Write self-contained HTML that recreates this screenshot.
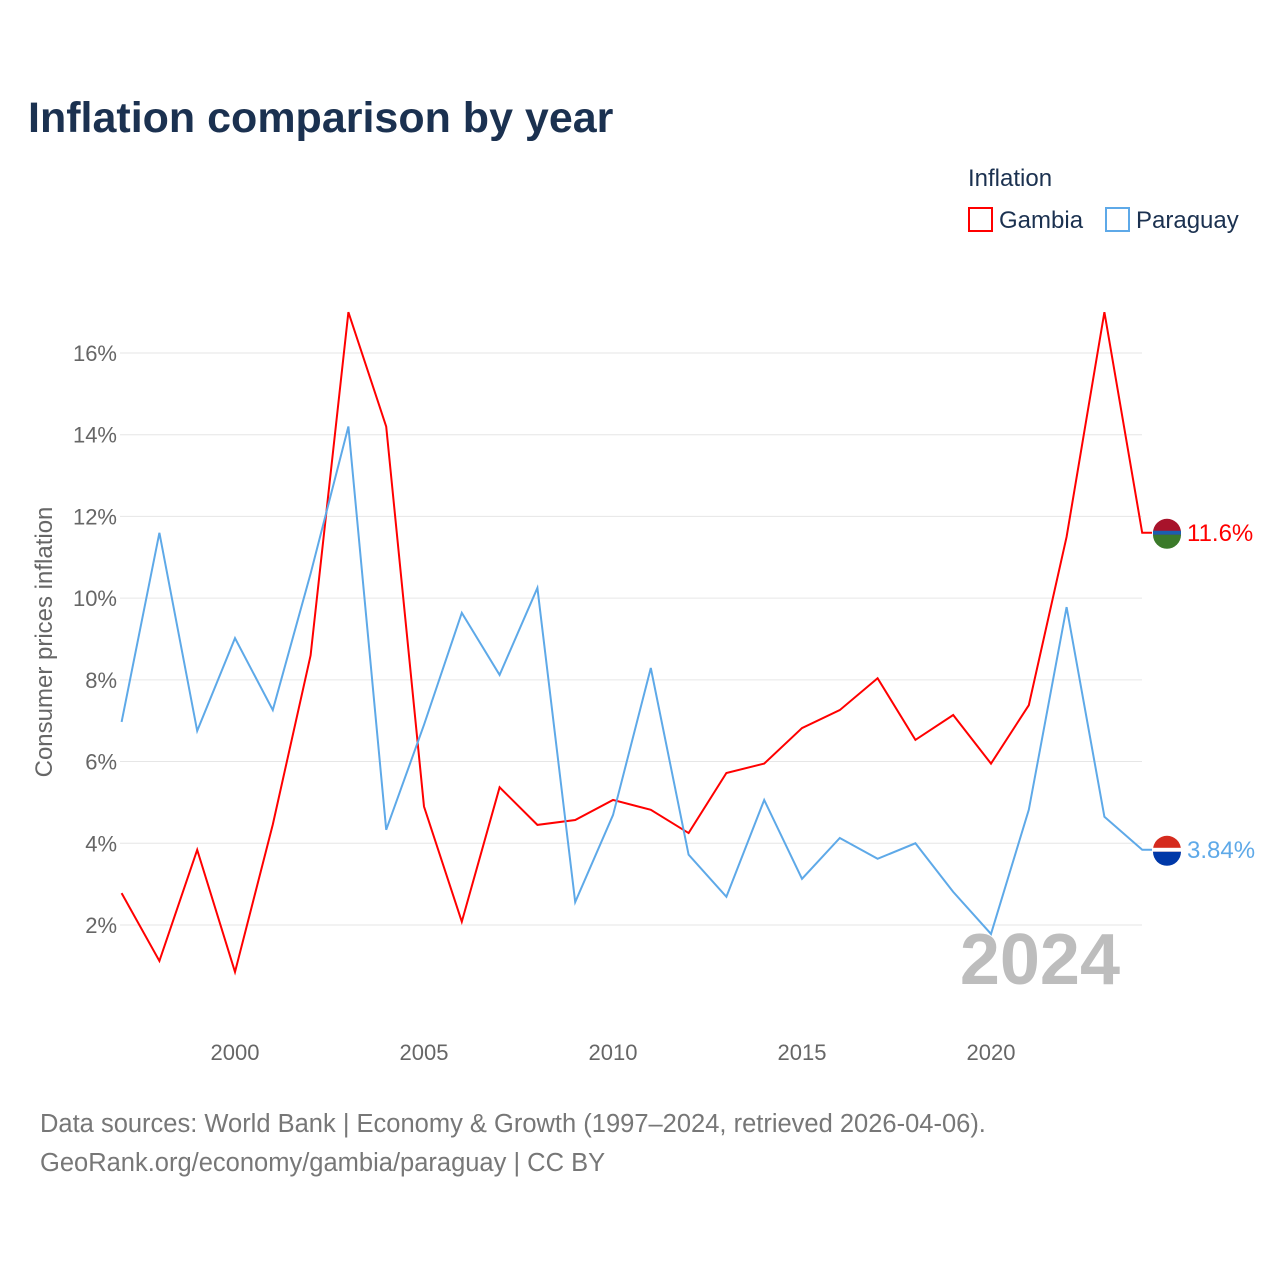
<!DOCTYPE html>
<html><head><meta charset="utf-8"><style>
body{margin:0;background:#fff;font-family:"Liberation Sans",sans-serif;}
svg text{font-family:"Liberation Sans",sans-serif;}
</style></head><body>
<svg id="chart" width="1280" height="1280">
<text x="28" y="132" font-size="43" font-weight="bold" fill="#1b3150">Inflation comparison by year</text>
<text x="968" y="186" font-size="24" fill="#1b3150">Inflation</text>
<g><rect x="969" y="208" width="23" height="23" fill="none" stroke="#f00" stroke-width="2"/><text x="999" y="228" font-size="24" fill="#1b3150">Gambia</text></g>
<g><rect x="1106" y="208" width="23" height="23" fill="none" stroke="#5ea9e8" stroke-width="2"/><text x="1136" y="228" font-size="24" fill="#1b3150">Paraguay</text></g>
<g id="grid"></g><g id="yt"></g><g id="xt"></g>
<text x="1120" y="984" font-size="72" font-weight="bold" fill="#bdbdbd" text-anchor="end">2024</text>
<g id="lines"></g>
<text transform="translate(52,642) rotate(-90)" font-size="24" fill="#666" text-anchor="middle">Consumer prices inflation</text>
<text x="40" y="1132" font-size="25.5" fill="#777">Data sources: World Bank | Economy &amp; Growth (1997–2024, retrieved 2026-04-06).</text>
<text x="40" y="1171" font-size="25.5" fill="#777">GeoRank.org/economy/gambia/paraguay | CC BY</text>
</svg>
<script>
const years=[1997,1998,1999,2000,2001,2002,2003,2004,2005,2006,2007,2008,2009,2010,2011,2012,2013,2014,2015,2016,2017,2018,2019,2020,2021,2022,2023,2024];
const gambia=[2.78,1.12,3.84,0.85,4.46,8.6,17.0,14.2,4.9,2.08,5.37,4.45,4.57,5.06,4.82,4.25,5.72,5.95,6.82,7.26,8.04,6.53,7.14,5.95,7.38,11.5,17.0,11.6];
const paraguay=[6.97,11.6,6.75,9.02,7.26,10.6,14.2,4.33,6.9,9.64,8.12,10.25,2.56,4.69,8.29,3.72,2.69,5.06,3.13,4.13,3.62,4.0,2.81,1.78,4.82,9.78,4.65,3.84];
const yTicks=[2,4,6,8,10,12,14,16];
const xTicks=[2000,2005,2010,2015,2020];
const X=y=>235+(y-2000)*37.8, Y=v=>1006.7-v*40.857;
const ns="http://www.w3.org/2000/svg";
function mk(t,a,p){const e=document.createElementNS(ns,t);for(const k in a)e.setAttribute(k,a[k]);p.appendChild(e);return e;}
const grid=document.getElementById('grid'),yt=document.getElementById('yt'),xt=document.getElementById('xt'),lines=document.getElementById('lines');
yTicks.forEach(v=>{const l=mk('line',{x1:120,x2:1142,y1:Y(v),y2:Y(v),stroke:'#e6e6e6','stroke-width':1},grid);


const t=mk('text',{x:117,y:Y(v)+8,'font-size':22,fill:'#666','text-anchor':'end'},yt);t.textContent=v+'%';

});
xTicks.forEach(v=>{const t=mk('text',{x:X(v),y:1060,'font-size':22,fill:'#666','text-anchor':'middle'},xt);t.textContent=v;

});
function series(d,c,name,lbl,flag){
const last=d[d.length-1],ly=Y(last);
const pts=d.map((v,i)=>X(years[i])+','+Y(v)).join(' ')+' 1152,'+ly;
const p=mk('polyline',{points:pts,fill:'none',stroke:c,'stroke-width':2},lines);


const f=mk('g',{},lines);


mk('circle',{cx:1167,cy:ly,r:14,fill:flag[0]},f);
mk('rect',{x:1153,y:ly-2,width:28,height:4,fill:flag[1]},f);
mk('path',{d:`M1153 ${ly+2} A14 14 0 0 0 1181 ${ly+2} Z`,fill:flag[2]},f);
const t=mk('text',{x:1187,y:ly+8,'font-size':24,fill:c},lines);t.textContent=lbl;

}
series(gambia,'#f00','gambia','11.6%',['#a8132b','#1b5fae','#3b7a2a']);
series(paraguay,'#5ea9e8','paraguay','3.84%',['#d52b1e','#fff','#0038a8']);
</script>
</body></html>
